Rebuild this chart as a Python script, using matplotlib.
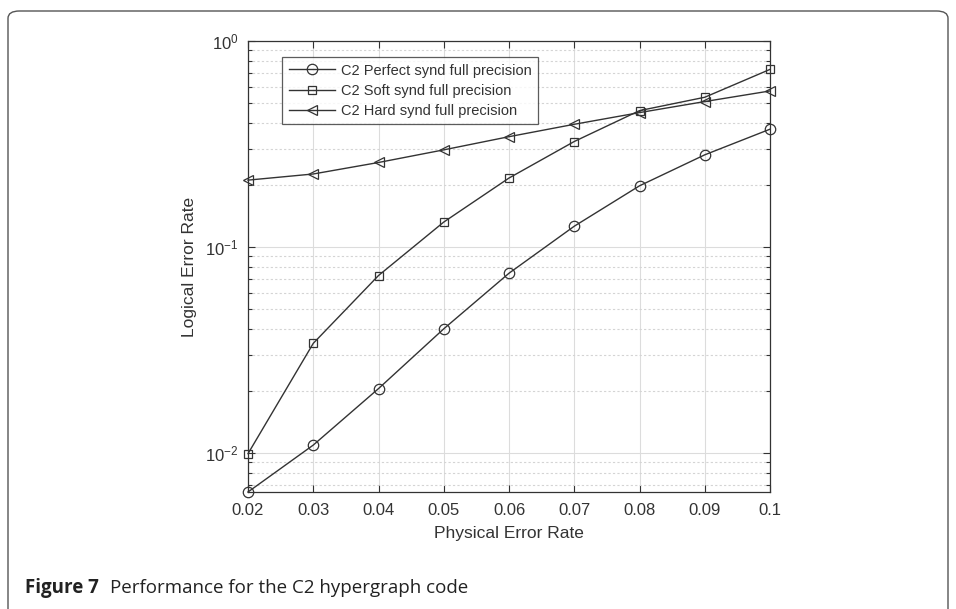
import matplotlib
matplotlib.use("Agg")
import matplotlib.pyplot as plt
from matplotlib.patches import FancyBboxPatch
from matplotlib.ticker import FixedLocator, FixedFormatter, LogLocator, NullFormatter

# values
p_phys = [0.02, 0.03, 0.04, 0.05, 0.06, 0.07, 0.08, 0.09, 0.1]
x_labels = ["0.02", "0.03", "0.04", "0.05", "0.06", "0.07", "0.08", "0.09", "0.1"]

perfect = [0.00645, 0.0109, 0.0205, 0.040, 0.0745, 0.126, 0.198, 0.280, 0.373]
soft = [0.0099, 0.034, 0.0726, 0.132, 0.216, 0.325, 0.459, 0.533, 0.728]
hard = [0.211, 0.226, 0.257, 0.296, 0.343, 0.394, 0.449, 0.508, 0.572]

names = ["C2 Perfect synd full precision",
         "C2 Soft synd full precision",
         "C2 Hard synd full precision"]

plt.rcParams['font.family'] = ['Liberation Sans', 'DejaVu Sans']
plt.rcParams['mathtext.fontset'] = 'custom'
plt.rcParams['mathtext.rm'] = 'Liberation Sans'
plt.rcParams['mathtext.it'] = 'Liberation Sans:italic'

fig = plt.figure(figsize=(9.56, 6.09), dpi=100)
ax = fig.add_axes([248/956, 1-492/609, (770-248)/956, (492-41)/609])

lc = '#333333'
ax.plot(p_phys, perfect, color=lc, lw=1, marker='o', ms=7.5, mfc='none', mec=lc, mew=0.9,
        label=names[0], clip_on=False, zorder=3)
ax.plot(p_phys, soft, color=lc, lw=1, marker='s', ms=5.5, mfc='none', mec=lc, mew=0.9,
        label=names[1], clip_on=False, zorder=3)
ax.plot(p_phys, hard, color=lc, lw=1, marker='<', ms=7.5, mfc='none', mec=lc, mew=0.9,
        label=names[2], clip_on=False, zorder=3)

ax.set_yscale('log')
ax.set_xlim(0.02, 0.1)
ax.set_ylim(0.00645, 1.0)

ax.xaxis.set_major_locator(FixedLocator(p_phys))
ax.xaxis.set_major_formatter(FixedFormatter(x_labels))
ax.yaxis.set_major_locator(LogLocator(base=10, numticks=10))
ax.yaxis.set_minor_locator(LogLocator(base=10, subs=range(2, 10), numticks=20))
ax.yaxis.set_minor_formatter(NullFormatter())

ax.grid(True, which='major', color='#dcdcdc', lw=0.8, ls='-')
ax.grid(True, which='minor', axis='y', color='#d4d4d4', lw=0.8, ls=(0, (2, 2)))
ax.set_axisbelow(True)

ax.tick_params(which='both', direction='in', top=True, right=True, colors='#333333',
               labelcolor='#333333', labelsize=12, width=0.8)
ax.tick_params(which='major', length=5)
ax.tick_params(axis='x', pad=8)
ax.tick_params(axis='y', pad=7)
ax.tick_params(which='minor', length=3)
for s in ax.spines.values():
    s.set_color('#333333')
    s.set_linewidth(0.9)

ax.set_xlabel('Physical Error Rate', fontsize=12.5, color='#333333', labelpad=6)
ax.set_ylabel('Logical Error Rate', fontsize=12.5, color='#333333', labelpad=6)

leg = ax.legend(loc='upper left', bbox_to_anchor=(282/956, 1-57/609), bbox_transform=fig.transFigure,
                fontsize=10.5, frameon=True, fancybox=False, borderaxespad=0, handlelength=3.2,
                borderpad=0.45, labelspacing=0.42, handletextpad=0.4)
leg.get_frame().set_edgecolor('#333333')
leg.get_frame().set_linewidth(0.9)
for t in leg.get_texts():
    t.set_color('#333333')

# outer rounded frame and caption
frame = FancyBboxPatch((8/956, -20/609), 940/956, 609/609 - 11/609 + 20/609,
                       boxstyle="round,pad=0,rounding_size=0.012", transform=fig.transFigure,
                       fill=False, edgecolor='#555555', lw=1.0)
fig.patches.append(frame)
fig.text(25/956, 1-593/609, 'Figure 7', fontsize=13.5, fontweight='bold', family='Open Sans',
         color='#222222', va='baseline')
fig.text(110/956, 1-593/609, 'Performance for the C2 hypergraph code', fontsize=13.5, family='Open Sans',
         color='#222222', va='baseline')

fig.savefig('out.png', dpi=100)
